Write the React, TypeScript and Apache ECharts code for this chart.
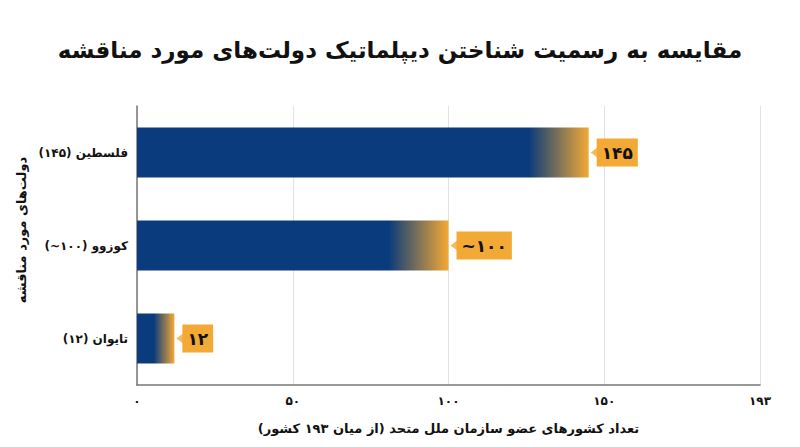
import { useEffect, useRef } from 'react'
import * as echarts from 'echarts'

// RLM marks keep parentheses and digits in right-to-left order inside SVG text
const RLM = '\u200F'
const rtl = (s: string) => RLM + s + RLM

const TITLE = 'مقایسه به رسمیت شناختن دیپلماتیک دولت‌های مورد مناقشه'
const X_NAME = 'تعداد کشورهای عضو سازمان ملل متحد (از میان ۱۹۳ کشور)'
const Y_NAME = 'دولت‌های مورد مناقشه'

const CATEGORIES = ['فلسطین (۱۴۵)', 'کوزوو (۱۰۰~)', 'تایوان (۱۲)']
const VALUES = [145, 100, 12]
const VALUE_LABELS = ['۱۴۵', '~۱۰۰', '۱۲']
const TICK_LABELS = ['۰', '۵۰', '۱۰۰', '۱۵۰', '۱۹۳']

const BLUE = '#0a3b7c'
const ORANGE = '#f3a935'
const INK = '#111111'
const FONT = "'DejaVu Sans', sans-serif"

const AXIS_MAX = 200
const PLOT_W = 623

function barColor(v: number) {
  // roughly 60px of blend at the bar's tip, at most half the bar
  const start = Math.max(0.45, 1 - 60 / ((v * PLOT_W) / AXIS_MAX))
  return new echarts.graphic.LinearGradient(0, 0, 1, 0, [
    { offset: 0, color: BLUE },
    { offset: start, color: BLUE },
    { offset: 1, color: ORANGE },
  ])
}

function buildOption(): echarts.EChartsOption {
  return {
    animation: false,
    textStyle: { fontFamily: FONT },
    title: {
      text: TITLE,
      left: 'center',
      top: 33,
      textStyle: { fontFamily: FONT, fontSize: 23, fontWeight: 'bold', color: INK },
    },
    graphic: [
      {
        type: 'text',
        x: 21,
        y: 230,
        rotation: Math.PI / 2,
        style: {
          text: Y_NAME,
          fill: INK,
          font: `bold 13px ${FONT}`,
          align: 'center',
          verticalAlign: 'middle',
        },
      },
    ],
    grid: { left: 137, right: 40, top: 106, bottom: 62 },
    xAxis: {
      type: 'value',
      min: 0,
      max: AXIS_MAX,
      interval: 50,
      name: rtl(X_NAME),
      nameLocation: 'middle',
      nameGap: 37,
      nameTextStyle: { fontFamily: FONT, fontSize: 13, fontWeight: 'bold', color: INK },
      axisLine: { show: true, lineStyle: { color: '#777777', width: 1.5 } },
      axisTick: { show: false },
      axisLabel: {
        margin: 10,
        fontSize: 12,
        fontWeight: 'bold',
        color: INK,
        formatter: (v: number) => TICK_LABELS[Math.round(v / 50)] ?? '',
      },
      splitLine: { show: true, lineStyle: { color: '#e2e2e2', width: 1 } },
    },
    yAxis: {
      type: 'category',
      inverse: true,
      data: CATEGORIES.map(rtl),
      axisLine: { show: true, lineStyle: { color: '#777777', width: 1.5 } },
      axisTick: { show: false },
      axisLabel: { margin: 9, fontSize: 12, fontWeight: 'bold', color: INK },
    },
    series: [
      {
        type: 'bar',
        barWidth: 50,
        data: VALUES.map((v) => ({ value: v, itemStyle: { color: barColor(v) } })),
        label: {
          show: true,
          position: 'right',
          distance: 8,
          formatter: (p: any) => VALUE_LABELS[p.dataIndex],
          backgroundColor: ORANGE,
          padding: [4, 5, 3, 5],
          fontSize: 17,
          fontWeight: 'bold',
          lineHeight: 21,
          color: INK,
        },
      },
      {
        // callout pointers
        type: 'scatter',
        silent: true,
        data: VALUES.map((v, i) => [v, i]),
        symbol: 'triangle',
        symbolRotate: 90,
        symbolSize: [12, 8],
        symbolOffset: [6, 0],
        itemStyle: { color: ORANGE },
        z: 3,
      },
    ],
  }
}

export default function App() {
  const ref = useRef<HTMLDivElement>(null)

  useEffect(() => {
    const el = ref.current
    if (!el) return
    const chart = echarts.init(el, undefined, { renderer: 'svg' })
    chart.setOption(buildOption())
    return () => chart.dispose()
  }, [])

  return (
    <div
      ref={ref}
      style={{ position: 'fixed', left: 0, top: 0, width: 800, height: 447, background: '#fff' }}
    />
  )
}
